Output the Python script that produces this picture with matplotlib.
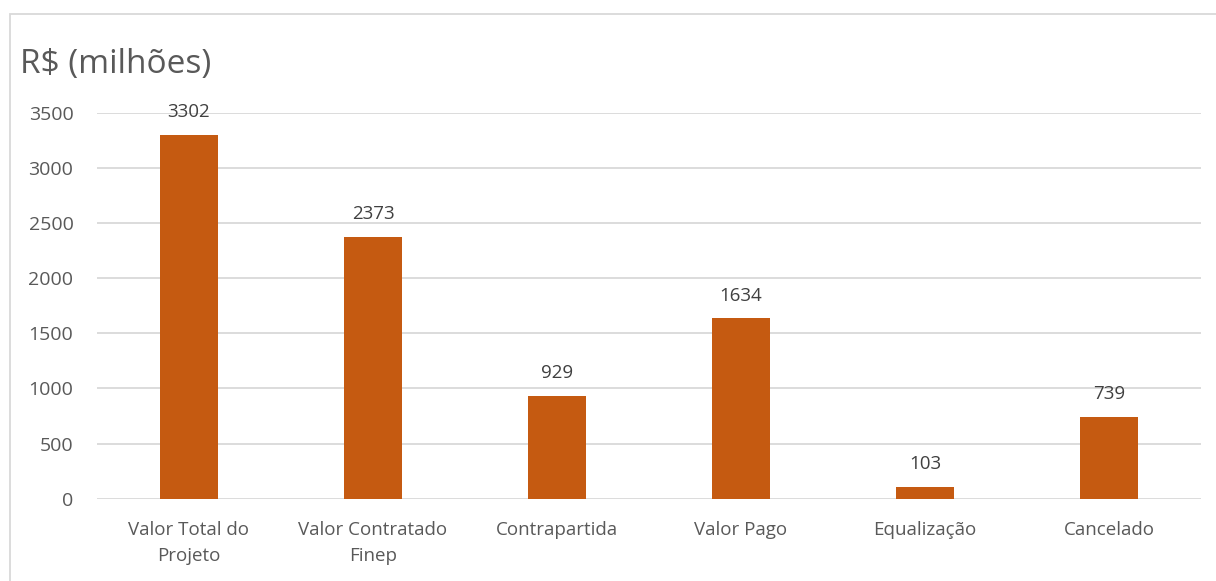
import matplotlib
matplotlib.use("Agg")
import matplotlib.pyplot as plt
from matplotlib.patches import Rectangle

categories = ["Valor Total do\nProjeto", "Valor Contratado\nFinep", "Contrapartida",
              "Valor Pago", "Equalização", "Cancelado"]
values = [3302, 2373, 929, 1634, 103, 739]
yticks = [0, 500, 1000, 1500, 2000, 2500, 3000, 3500]

BAR = "#C55A11"
GRID = "#D9D9D9"
TXT = "#595959"

plt.rcParams["font.family"] = ["Open Sans", "DejaVu Sans"]

fig = plt.figure(figsize=(12.16, 5.81), dpi=100, facecolor="white")
ax = fig.add_axes([97 / 1216, 82.3 / 581, 1104 / 1216, 386 / 581])

x = list(range(len(categories)))
ax.bar(x, values, width=0.313, color=BAR, zorder=3)
for xi, v in zip(x, values):
    ax.annotate(f"{v}", (xi, v), xytext=(0, 10), textcoords="offset points",
                ha="center", va="bottom", fontsize=13.5, color="#404040")

ax.set_xlim(-0.5, len(categories) - 0.5)
ax.set_ylim(0, 3500)
ax.set_yticks(yticks)
ax.set_xticks(x)
ax.set_xticklabels(categories, fontsize=13.5, color=TXT, linespacing=1.6)
ax.tick_params(axis="y", labelsize=14, labelcolor=TXT, length=0, pad=17)
ax.tick_params(axis="x", length=0, pad=16)
ax.grid(axis="y", color=GRID, linewidth=1.3, zorder=0)
for s in ax.spines.values():
    s.set_visible(False)

fig.text(20 / 1216, 1 - 73 / 581, "R$ (milhões)", fontsize=24, color=TXT,
         ha="left", va="baseline")

# outer chart frame (clipped at right and bottom edges)
fig.patches.append(Rectangle((9.5 / 1216, -0.1), 1.2, 1.1 - 14 / 581,
                             transform=fig.transFigure, fill=False,
                             edgecolor=GRID, linewidth=1.3))

fig.savefig("out.png", dpi=100, facecolor="white")
